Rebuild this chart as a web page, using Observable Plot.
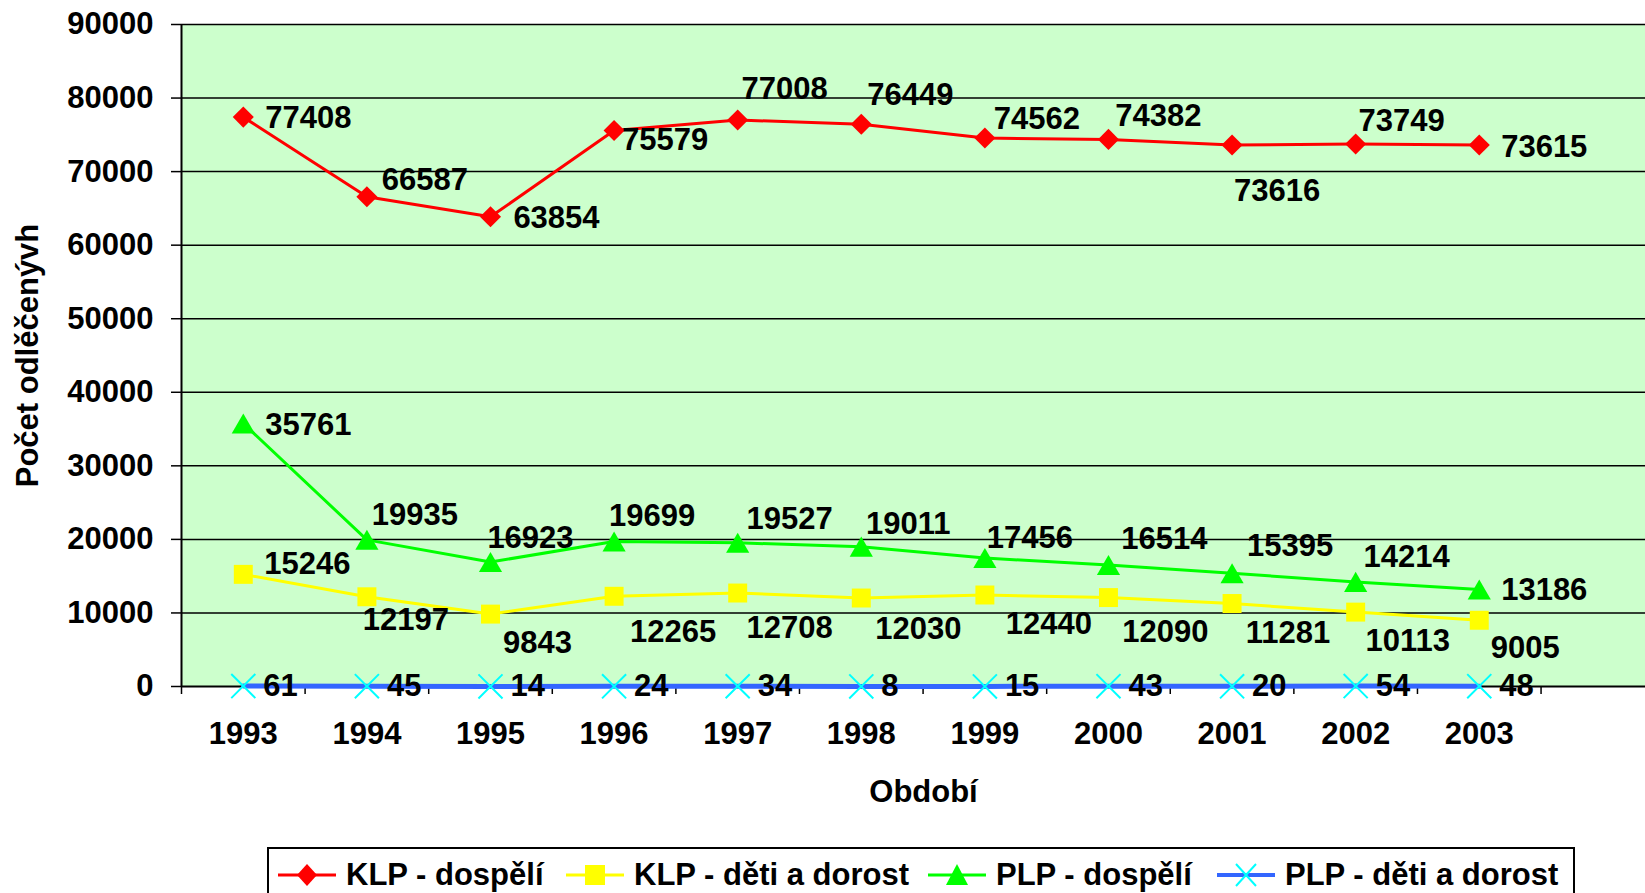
<!DOCTYPE html>
<html>
<head>
<meta charset="utf-8">
<script src="https://cdn.jsdelivr.net/npm/d3@7"></script>
<script src="https://cdn.jsdelivr.net/npm/@observablehq/plot@0.6"></script>
<style>
  html, body { margin: 0; padding: 0; background: #fff; overflow: hidden; }
  #wrap { position: relative; width: 1645px; height: 893px; font-family: "Liberation Sans", Arial, sans-serif; font-weight: bold; }
  #legend { position: absolute; left: 267px; top: 847px; width: 1308px; height: 60px; border: 2px solid #000; background: #fff; box-sizing: border-box; }
  .item { position: absolute; top: 0; height: 52px; display: flex; align-items: center; font-size: 31px; color: #000; white-space: nowrap; }
  .item svg { margin-right: 10px; }
</style>
</head>
<body>
<div id="wrap"><div id="chart"></div><div id="legend"></div></div>
<script>
const years = [1993, 1994, 1995, 1996, 1997, 1998, 1999, 2000, 2001, 2002, 2003];
const seriesNames = ["KLP - dospělí", "KLP - děti a dorost", "PLP - dospělí", "PLP - děti a dorost"];
const klpDospeli = [77408, 66587, 63854, 75579, 77008, 76449, 74562, 74382, 73616, 73749, 73615];
const klpDeti = [15246, 12197, 9843, 12265, 12708, 12030, 12440, 12090, 11281, 10113, 9005];
const plpDospeli = [35761, 19935, 16923, 19699, 19527, 19011, 17456, 16514, 15395, 14214, 13186];
const plpDeti = [61, 45, 14, 24, 34, 8, 15, 43, 20, 54, 48];
const yTicks = [0, 10000, 20000, 30000, 40000, 50000, 60000, 70000, 80000, 90000];
const yTitle = "Počet odlěčenývh";
const xTitle = "Období";

// label offsets (pixels) for each data label, per series
const offRed = [[65,1],[58,-17],[66,1],[51,10],[47,-31],[49,-29],[52,-19],[50,-23],[45,46],[46,-23],[65,2]];
const offYellow = [[64,-10],[39,23],[47,29],[59,36],[52,35],[57,31],[64,29],[57,35],[56,30],[52,29],[46,28]];
const offGreen = [[65,2],[48,-25],[40,-24],[38,-26],[52,-24],[47,-23],[45,-20],[56,-26],[58,-27],[51,-25],[65,1]];

const font = '"Liberation Sans", Arial, sans-serif';
const toRows = (vals) => years.map((y, i) => ({year: y, value: vals[i]}));
const rowsRed = toRows(klpDospeli), rowsYellow = toRows(klpDeti), rowsGreen = toRows(plpDospeli), rowsBlue = toRows(plpDeti);

const labelMarks = (rows, offs) => rows.map((d, i) => Plot.text([d], {
  x: "year", y: "value", text: (d) => String(d.value),
  dx: offs[i][0], dy: offs[i][1], fontSize: 31, fontWeight: "bold", fill: "black"
}));

const halfTicks = d3.range(1992.5, 2004, 1);

const chart = Plot.plot({
  width: 1645, height: 845,
  marginLeft: 181, marginRight: 0, marginTop: 24, marginBottom: 159,
  style: {fontFamily: font, fontWeight: "bold", background: "transparent", overflow: "visible"},
  x: {type: "linear", domain: [1992.5, 2004.345], axis: null},
  y: {domain: [0, 90000], axis: null},
  marks: [
    Plot.frame({fill: "#CCFFCC", stroke: null}),
    Plot.gridY(yTicks.slice(1), {stroke: "black", strokeOpacity: 1, strokeWidth: 1.5}),
    Plot.axisY(yTicks, {tickSize: 10, tickPadding: 18, tickFormat: (d) => String(d), fontSize: 31, fontWeight: "bold", label: null, stroke: "black", strokeWidth: 1.5}),
    Plot.axisX(halfTicks, {tickSize: 8, tickFormat: () => "", label: null, stroke: "black", strokeWidth: 1.5}),
    Plot.ruleY([0], {stroke: "black", strokeWidth: 2}),
    Plot.ruleX([1992.5], {y1: 0, y2: 90000, stroke: "black", strokeWidth: 2}),
    Plot.text(years, {x: (d) => d, y: 0, dy: 48, text: (d) => String(d), fontSize: 31, fontWeight: "bold"}),
    Plot.text([yTitle], {frameAnchor: "left", textAnchor: "middle", dx: -153, rotate: -90, fontSize: 31, fontWeight: "bold"}),
    Plot.text([xTitle], {frameAnchor: "bottom", textAnchor: "middle", dx: 10, dy: 115, fontSize: 31, fontWeight: "bold"}),
    // KLP - dospělí
    Plot.line(rowsRed, {x: "year", y: "value", stroke: "#FF0000", strokeWidth: 3}),
    Plot.dot(rowsRed, {x: "year", y: "value", symbol: "diamond2", r: 9.5, fill: "#FF0000", stroke: null}),
    // KLP - děti a dorost
    Plot.line(rowsYellow, {x: "year", y: "value", stroke: "#FFFF00", strokeWidth: 3}),
    Plot.dot(rowsYellow, {x: "year", y: "value", symbol: "square", r: 10.7, fill: "#FFFF00", stroke: null}),
    // PLP - dospělí
    Plot.line(rowsGreen, {x: "year", y: "value", stroke: "#00FF00", strokeWidth: 3}),
    Plot.dot(rowsGreen, {x: "year", y: "value", symbol: "triangle", r: 8.6, dy: 3.3, fill: "#00FF00", stroke: null}),
    // PLP - děti a dorost
    Plot.line(rowsBlue, {x: "year", y: "value", stroke: "#3366FF", strokeWidth: 5}),
    Plot.dot(rowsBlue, {x: "year", y: "value", symbol: "times", r: 11, stroke: "#00FFFF", strokeWidth: 2, fill: "none"}),
    ...labelMarks(rowsRed, offRed),
    ...labelMarks(rowsYellow, offYellow),
    ...labelMarks(rowsGreen, offGreen),
    Plot.text(rowsBlue, {x: "year", y: "value", text: (d) => String(d.value), dx: 20, textAnchor: "start", fontSize: 31, fontWeight: "bold"})
  ]
});
document.getElementById("chart").appendChild(chart);

// Legend
const legendItems = [
  {name: seriesNames[0], left: 9, line: "#FF0000", marker: '<path d="M29,4 L39,15 L29,26 L19,15Z" fill="#FF0000"/>'},
  {name: seriesNames[1], left: 297, line: "#FFFF00", marker: '<rect x="19" y="5" width="20" height="20" fill="#FFFF00"/>'},
  {name: seriesNames[2], left: 659, line: "#00FF00", marker: '<path d="M29,4 L40,25 L18,25Z" fill="#00FF00"/>'},
  {name: seriesNames[3], left: 948, line: "#3366FF", marker: '<path d="M19,4 L39,26 M39,4 L19,26" stroke="#00FFFF" stroke-width="2" fill="none"/>'}
];
const legend = document.getElementById("legend");
for (const it of legendItems) {
  const div = document.createElement("div");
  div.className = "item";
  div.style.left = it.left + "px";
  div.innerHTML = `<svg width="58" height="30" viewBox="0 0 58 30"><line x1="0" y1="15" x2="58" y2="15" stroke="${it.line}" stroke-width="${it.line === '#3366FF' ? 4 : 3}"/>${it.marker}</svg><span>${it.name}</span>`;
  legend.appendChild(div);
}
</script>
</body>
</html>
